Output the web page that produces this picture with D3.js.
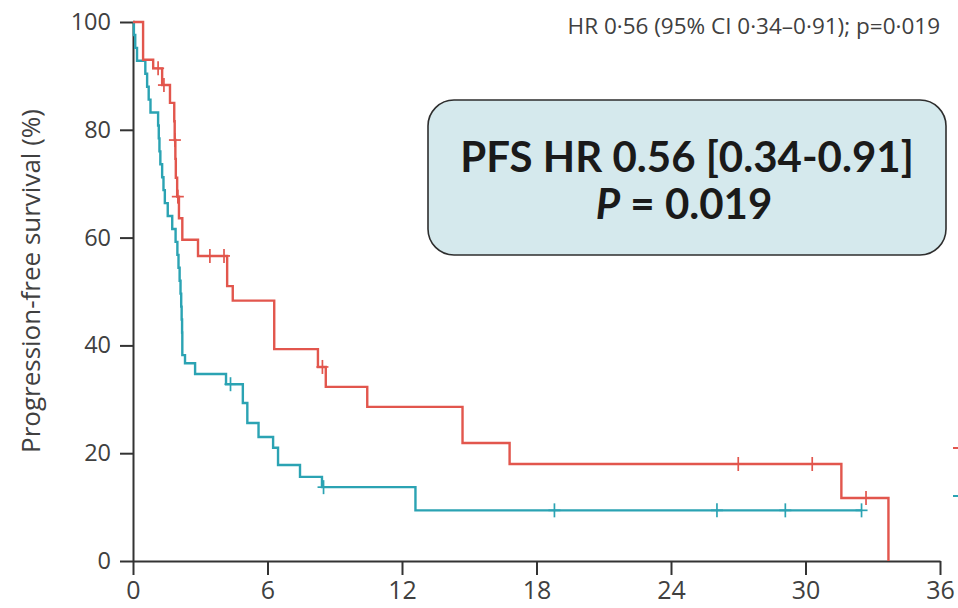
<!DOCTYPE html>
<html>
<head>
<meta charset="utf-8">
<script src="https://cdn.jsdelivr.net/npm/d3@7"></script>
<style>
  html, body { margin: 0; padding: 0; background: #fff; }
  svg { display: block; }
</style>
</head>
<body>
<svg id="chart" width="958" height="608"></svg>
<script>
// Kaplan-Meier step points: [months, survival %] after each event
const redSteps = [
  [0, 100], [0.45, 93.0], [0.9, 91.4], [1.3, 88.3], [1.65, 85.0],
  [1.84, 81.6], [1.86, 78.1], [1.89, 74.6], [1.91, 71.1], [1.97, 67.6],
  [2.05, 63.6], [2.2, 59.6], [2.9, 56.6], [4.2, 51.0], [4.45, 48.3],
  [6.3, 39.3], [8.25, 36.0], [8.6, 32.3], [10.45, 28.6], [14.7, 21.9],
  [16.8, 18.0], [31.6, 11.7], [33.7, 0]
];
const tealSteps = [
  [0, 100], [0.04, 97.6], [0.1, 95.2], [0.18, 92.8], [0.55, 90.4],
  [0.63, 88.0], [0.7, 85.6], [0.78, 83.2], [1.12, 80.8], [1.15, 78.4],
  [1.18, 76.0], [1.22, 73.6], [1.3, 71.2], [1.36, 68.8], [1.42, 66.4],
  [1.55, 64.0], [1.75, 61.6], [1.9, 59.2], [1.98, 56.8], [2.03, 54.4],
  [2.08, 52.0], [2.12, 49.6], [2.15, 47.2], [2.17, 44.8], [2.19, 42.4],
  [2.2, 38.2], [2.32, 36.7], [2.77, 34.7], [4.15, 32.8], [4.9, 29.3],
  [5.1, 25.6], [5.6, 23.0], [6.25, 21.0], [6.47, 17.8], [7.45, 15.6],
  [8.43, 13.7], [12.6, 9.4], [32.5, 9.4]
];
// censoring times (months)
const redCensored = [1.12, 1.38, 1.87, 2.0, 3.43, 4.06, 8.45, 27.0, 30.3, 32.7];
const tealCensored = [4.35, 8.5, 18.8, 26.05, 29.1, 32.5];

const xTicks = [0, 6, 12, 18, 24, 30, 36];
const yTicks = [0, 20, 40, 60, 80, 100];

const headerText = "HR 0·56 (95% CI 0·34–0·91); p=0·019";
const boxLine1 = "PFS HR 0.56 [0.34-0.91]";
const boxLine2Label = "P";
const boxLine2Value = " = 0.019";
const yTitle = "Progression-free survival (%)";

const RED = "#e2564d";
const TEAL = "#2ba3b3";
const AXIS = "#333";
const TEXT = "#404040";
const FONT = "'Open Sans', sans-serif";

const svg = d3.select("#chart");
const margin = { left: 133, right: 18, top: 22, bottom: 47 };
const W = 958, H = 608;

const x = d3.scaleLinear().domain([0, 36]).range([margin.left, W - margin.right]);
const y = d3.scaleLinear().domain([0, 100]).range([H - margin.bottom, margin.top]);

// survival level at time t from a step table
function levelAt(steps, t) {
  let v = steps[0][1];
  for (const [s, val] of steps) { if (s <= t) v = val; else break; }
  return v;
}

// axes
const yAxis = d3.axisLeft(y).tickValues(yTicks).tickSize(13).tickPadding(9).tickSizeOuter(0);
const xAxis = d3.axisBottom(x).tickValues(xTicks).tickSize(14).tickPadding(6).tickSizeOuter(0);

const gy = svg.append("g").attr("transform", `translate(${margin.left},0)`).call(yAxis);
const gx = svg.append("g").attr("transform", `translate(0,${H - margin.bottom})`).call(xAxis);

[gy, gx].forEach(g => {
  g.select(".domain").attr("stroke", AXIS).attr("stroke-width", 2);
  g.selectAll(".tick line").attr("stroke", AXIS).attr("stroke-width", 2);
  g.selectAll(".tick text").attr("fill", TEXT).attr("font-family", FONT);
});
gy.selectAll(".tick text").attr("font-size", 23.5);
gx.selectAll(".tick text").attr("font-size", 25);

// y-axis title
svg.append("text")
  .attr("transform", `translate(40,281) rotate(-90)`)
  .attr("text-anchor", "middle")
  .attr("font-family", FONT)
  .attr("font-size", 26)
  .attr("fill", TEXT)
  .text(yTitle);

// header statistic
svg.append("text")
  .attr("x", 940).attr("y", 34)
  .attr("text-anchor", "end")
  .attr("font-family", FONT)
  .attr("font-size", 22.5)
  .attr("fill", TEXT)
  .text(headerText);

// survival curves
const line = d3.line().x(d => x(d[0])).y(d => y(d[1])).curve(d3.curveStepAfter);

function drawArm(steps, censored, color) {
  svg.append("path")
    .datum(steps)
    .attr("d", line)
    .attr("fill", "none")
    .attr("stroke", color)
    .attr("stroke-width", 2.4);
  const g = svg.append("g").attr("stroke", color).attr("stroke-width", 1.7);
  censored.forEach(t => {
    const cx = x(t), cy = y(levelAt(steps, t));
    g.append("line").attr("x1", cx).attr("x2", cx).attr("y1", cy - 7).attr("y2", cy + 7);
    g.append("line").attr("x1", cx - 6).attr("x2", cx + 6).attr("y1", cy).attr("y2", cy);
  });
}
drawArm(tealSteps, tealCensored, TEAL);
drawArm(redSteps, redCensored, RED);

// legend swatches at the right margin
const legend = svg.append("g");
[[RED, 448], [TEAL, 496]].forEach(([c, ly]) => {
  legend.append("line").attr("x1", 953).attr("x2", 975).attr("y1", ly).attr("y2", ly)
    .attr("stroke", c).attr("stroke-width", 2);
});

// annotation box
const box = svg.append("g");
box.append("rect")
  .attr("x", 428).attr("y", 100).attr("width", 518).attr("height", 155)
  .attr("rx", 26).attr("ry", 26)
  .attr("fill", "#d5e9ed").attr("stroke", "#2e2e2e").attr("stroke-width", 1.6);
box.append("text")
  .attr("x", 687).attr("y", 172)
  .attr("text-anchor", "middle")
  .attr("font-family", "Lato, 'Open Sans', sans-serif")
  .attr("font-weight", "bold")
  .attr("font-size", 42)
  .attr("fill", "#1a1a1a")
  .text(boxLine1);
const t2 = box.append("text")
  .attr("x", 684).attr("y", 219)
  .attr("text-anchor", "middle")
  .attr("font-family", "Lato, 'Open Sans', sans-serif")
  .attr("font-weight", "bold")
  .attr("font-size", 42)
  .attr("fill", "#1a1a1a");
t2.append("tspan").attr("font-style", "italic").text(boxLine2Label);
t2.append("tspan").text(boxLine2Value);
</script>
</body>
</html>
